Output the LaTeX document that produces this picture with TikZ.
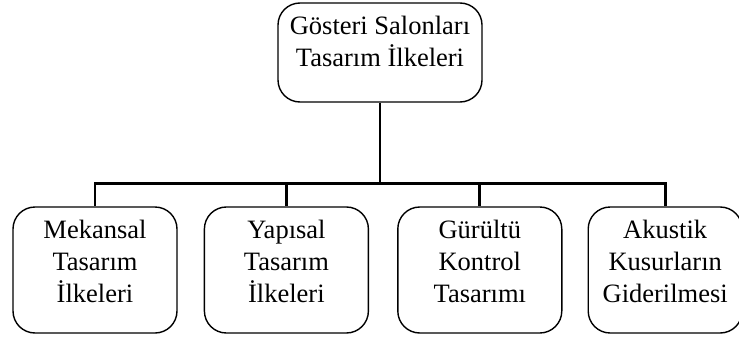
\documentclass[tikz,border=0pt]{standalone}
\usepackage{fontspec}
\setmainfont{Liberation Serif}
\usetikzlibrary{positioning}
\tikzset{
  % --- boxes ---
  ilkebox/.style={draw, rounded corners=22pt, line width=1.4pt, align=center,
    font=\fontsize{26.5}{32}\selectfont, inner sep=0pt},
  rootbox/.style={ilkebox, minimum width=204pt, minimum height=99pt, text depth=22pt},
  leafbox/.style={ilkebox, minimum width=164pt, minimum height=126pt, text depth=17pt},
  % --- connectors ---
  branch/.style={line width=2.8pt},
}

\begin{document}
\begin{tikzpicture}[x=1pt, y=-1pt]
    \useasboundingbox (0,0) rectangle (739,340);
    % ---- Root ----
    \node[rootbox] (ilke) at (380,52.5) {Gösteri Salonları\\Tasarım İlkeleri};
    % ---- Leaves ----
    \node[leafbox] (mek) at (95,270) {Mekansal\\Tasarım\\İlkeleri};
    \node[leafbox, right=26pt of mek] (yap) {Yapısal\\Tasarım\\İlkeleri};
    \node[leafbox, right=28pt of yap] (gur) {Gürültü\\Kontrol\\Tasarımı};
    \node[leafbox, minimum width=154pt, right=25pt of gur] (aku) {Akustik\\Kusurların\\Giderilmesi};
    % ---- Branches ----
    \draw[branch] (ilke.south) -- ++(0,81) coordinate (bus);
    \foreach \b in {mek,yap,gur,aku}{ \draw[branch] (bus) -| (\b.north); }
\end{tikzpicture}
\end{document}
